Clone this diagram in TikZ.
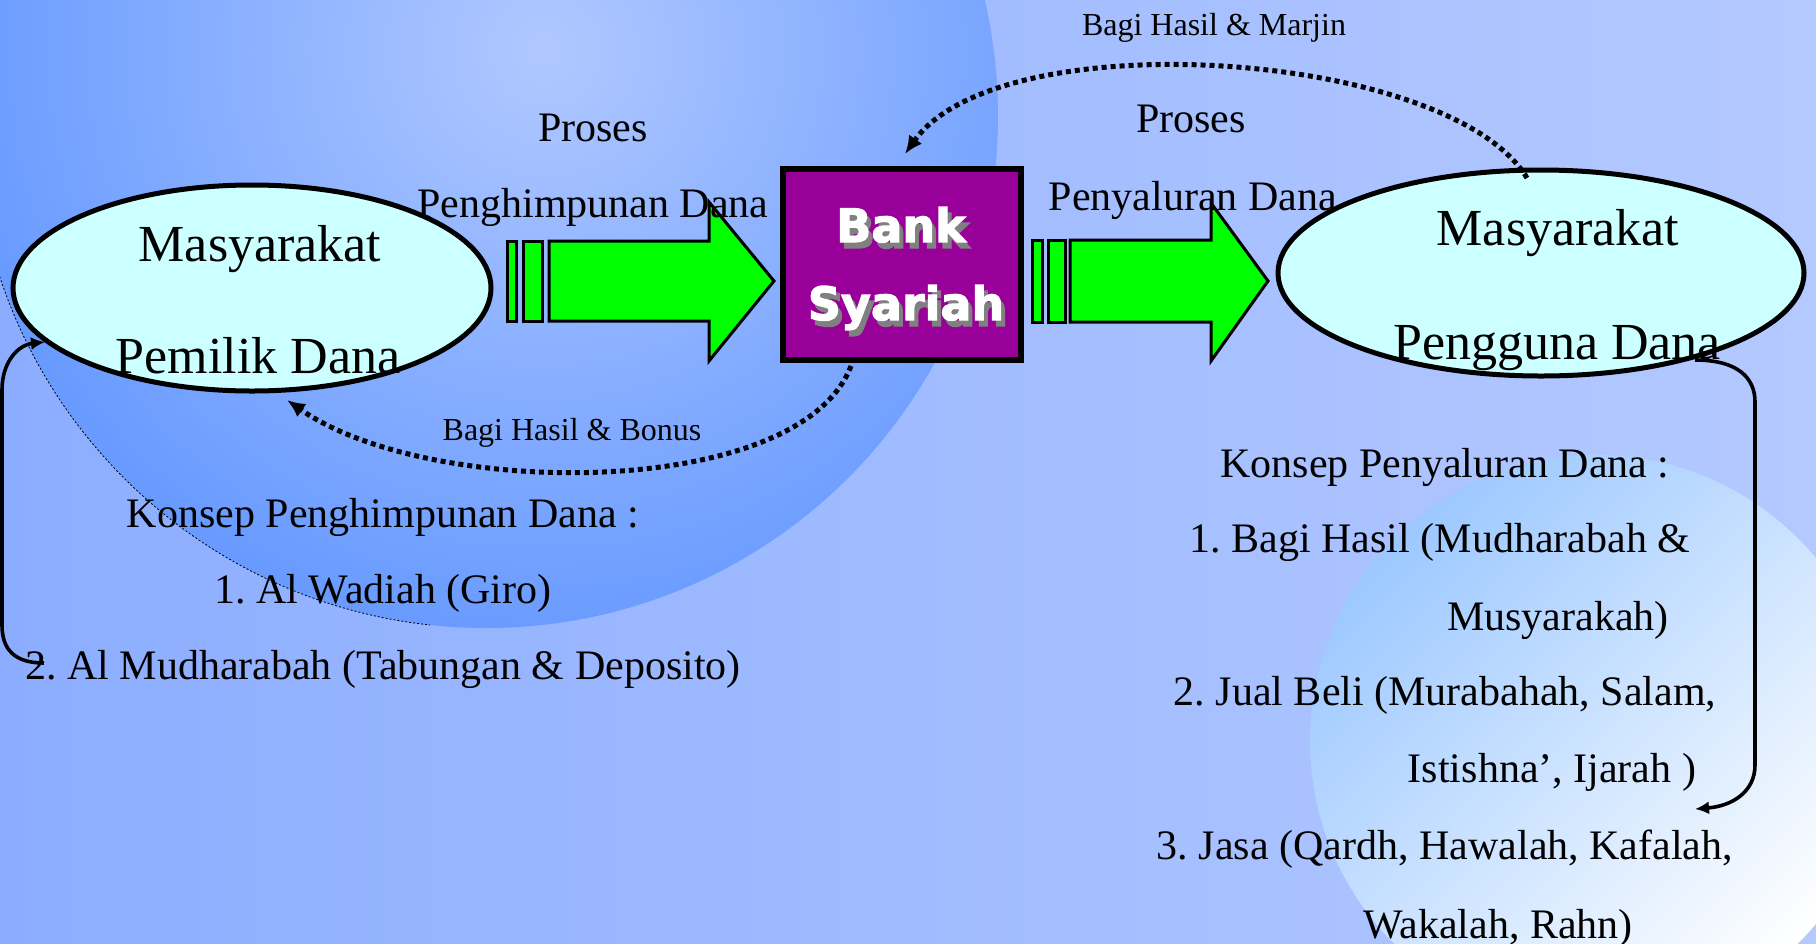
\documentclass[tikz,border=0pt]{standalone}
\usepackage{fontspec}
\setmainfont{Liberation Serif}
\font\bankfontA="DejaVu Sans/B:embolden=2.5" at 23pt
\usetikzlibrary{arrows.meta,shapes.geometric}
\definecolor{bgL}{HTML}{8CADFF}
\definecolor{bgR}{HTML}{B4C9FF}
\definecolor{circIn}{HTML}{B0C8FF}
\definecolor{circOut}{HTML}{6699FF}
\definecolor{lightA}{HTML}{9CC8FF}
\definecolor{elfill}{HTML}{CCFFFF}
\definecolor{arrgreen}{HTML}{00FF00}
\definecolor{bankpurple}{HTML}{990099}
\definecolor{shadowgray}{HTML}{808080}
\begin{document}
\frenchspacing
\begin{tikzpicture}[x=0.5pt,y=-0.5pt,
  elli/.style={ellipse, draw=black, line width=2.5pt, fill=elfill, inner sep=0pt},
  bankbox/.style={rectangle, draw=black, line width=3pt, fill=bankpurple, inner sep=0pt, minimum width=119pt, minimum height=95.5pt},
  garrow/.style={draw=black, line width=1.5pt, fill=arrgreen, line join=miter},
  dotarrow/.style={line width=2.5pt, dash pattern=on 2.5pt off 2pt, -{Latex[length=9pt,width=8pt]}},
  solidarrow/.style={line width=1.8pt, -{Latex[length=7pt,width=6.5pt]}},
  bigtxt/.style={font=\fontsize{26pt}{26pt}\selectfont, anchor=base, inner sep=0pt},
  midtxt/.style={font=\fontsize{21pt}{21pt}\selectfont, anchor=base, inner sep=0pt},
  smalltxt/.style={font=\fontsize{16pt}{16pt}\selectfont, anchor=base, inner sep=0pt},
  banktxt/.style={font=\bankfontA, anchor=base, inner sep=0pt}
]
\useasboundingbox (0,0) rectangle (1816,943);
% background
\shade[left color=bgL, right color=bgR] (0,0) rectangle (1816,943);
% big blue circle
\begin{scope}
  \clip (486,116) circle (256pt);
  \shade[inner color=circIn, outer color=circOut] (545,50) circle (305pt);
\end{scope}
\begin{scope}
  \clip (0,250) rectangle (430,700);
  \draw[line width=0.4pt, dash pattern=on 1pt off 1pt] (486,116) circle (256pt);
\end{scope}
% light circle bottom right
\shade[top color=lightA, bottom color=white, shading angle=45] (1596,741) circle (143pt);

% ellipses and bank box
\node[elli, minimum width=239pt, minimum height=103pt] (pemilik) at (252,288) {};
\node[elli, minimum width=263pt, minimum height=103pt] (pengguna) at (1541,273) {};
\node[bankbox] (bank) at (902,264.5) {};

% green block arrows
\draw[garrow] (507,241) rectangle (516,321);
\draw[garrow] (523,241) rectangle (542,321);
\draw[garrow] (549,241) -- (709,241) -- (709,202) -- (774,281) -- (709,361) -- (709,321) -- (549,321) -- cycle;
\draw[garrow] (1032,240) rectangle (1042,322);
\draw[garrow] (1048,240) rectangle (1065,322);
\draw[garrow] (1070,240) -- (1211,240) -- (1211,203) -- (1268,281) -- (1211,361) -- (1211,322) -- (1070,322) -- cycle;

% dotted connectors
\coordinate (margS) at (1527,178);
\coordinate (margE) at (905,154);
\draw[dotarrow] (margS) .. controls (1450,50) and (1000,20) .. (margE);
\coordinate (bonS) at (851,366);
\coordinate (bonE) at (287,400);
\draw[dotarrow] (bonS) .. controls (800,500) and (430,500) .. (bonE);

% solid loop connectors
\coordinate (lA) at (44,663);
\coordinate (lB) at (45,342);
\draw[solidarrow] (lA) .. controls (15,663) and (2,650) .. (2,625) -- (2,390) .. controls (2,362) and (18,345) .. (lB);
\coordinate (rA) at (1695,360);
\coordinate (rB) at (1695,809);
\draw[solidarrow] (rA) .. controls (1738,360) and (1755,378) .. (1755,402) -- (1755,765) .. controls (1755,792) and (1732,806) .. (rB);

% bank text with shadow
\node[banktxt, text=shadowgray] (bankS1) at (905,248) {Bank};
\node[banktxt, text=white] (bankT1) at (901,242) {Bank};
\node[banktxt, text=shadowgray] (bankS2) at (910,326) {Syariah};
\node[banktxt, text=white] (bankT2) at (906,320) {Syariah};

% ellipse texts
\node[bigtxt] (t1) at (260,261) {Masyarakat};
\node[bigtxt] (t2) at (258,373) {Pemilik Dana};
\node[bigtxt] (t3) at (1558,245) {Masyarakat};
\node[bigtxt] (t4) at (1557,359) {Pengguna Dana};

% process labels
\node[midtxt] (p1) at (593,141) {Proses};
\node[midtxt] (p2) at (593,217) {Penghimpunan Dana};
\node[midtxt] (p3) at (1191,132) {Proses};
\node[midtxt] (p4) at (1193,210) {Penyaluran Dana};

\node[smalltxt] (m1) at (1214,35) {Bagi Hasil \& Marjin};
\node[smalltxt] (m2) at (572,440) {Bagi Hasil \& Bonus};

% left concept block
\node[midtxt] (k1) at (383,527) {Konsep Penghimpunan Dana :};
\node[midtxt] (k2) at (383,603) {1. Al Wadiah (Giro)};
\node[midtxt] (k3) at (383,679) {2. Al Mudharabah (Tabungan \& Deposito)};

% right concept block
\node[midtxt] (r1) at (1445,477) {Konsep Penyaluran Dana :};
\node[midtxt] (r2) at (1440,552) {1. Bagi Hasil (Mudharabah \&};
\node[midtxt] (r3) at (1558,630) {Musyarakah)};
\node[midtxt] (r4) at (1445,705) {2. Jual Beli (Murabahah, Salam,};
\node[midtxt] (r5) at (1552,782) {Istishna’, Ijarah )};
\node[midtxt] (r6) at (1445,859) {3. Jasa (Qardh, Hawalah, Kafalah,};
\node[midtxt] (r7) at (1498,938) {Wakalah, Rahn)};
\end{tikzpicture}
\end{document}
